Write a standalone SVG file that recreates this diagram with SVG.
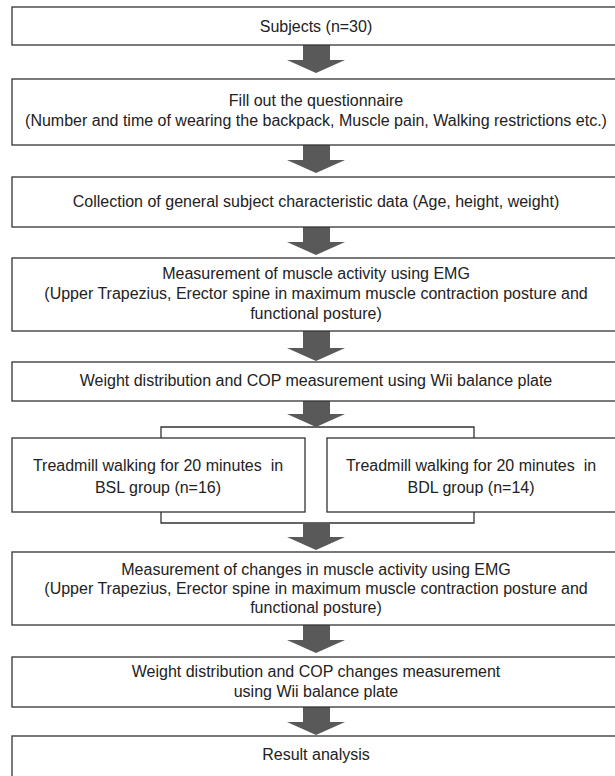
<svg xmlns="http://www.w3.org/2000/svg" width="615" height="776" viewBox="0 0 615 776">
<defs>
<style>
.box{fill:#ffffff;stroke:#333333;stroke-width:1.3}
.t{font-family:"Liberation Sans",Arial,sans-serif;font-size:16px;fill:#222222;text-anchor:middle;white-space:pre}
.arr{fill:#595959}
.br{fill:none;stroke:#333333;stroke-width:1.3}
</style>
</defs>
<rect width="615" height="776" fill="#ffffff"/>
<g id="connectors">
<path class="br" d="M161,438 V427 H474 V438"/>
<path class="br" d="M161,512 V523 H474 V512"/>
<polygon class="arr" points="303,45 330,45 330,60 345,60 316,73 287,60 303,60"/>
<polygon class="arr" points="303,145 330,145 330,160 345,160 316,173 287,160 303,160"/>
<polygon class="arr" points="303,227 330,227 330,242 345,242 316,255 287,242 303,242"/>
<polygon class="arr" points="303,331 330,331 330,348 345,348 316,361 287,348 303,348"/>
<polygon class="arr" points="303,401 330,401 330,414 345,414 316,427 287,414 303,414"/>
<polygon class="arr" points="303,523 330,523 330,537 345,537 316,550 287,537 303,537"/>
<polygon class="arr" points="303,625 330,625 330,640 345,640 316,653 287,640 303,640"/>
<polygon class="arr" points="303,707 330,707 330,722 345,722 316,735 287,722 303,722"/>
</g>
<g id="n1"><rect class="box" x="12" y="7" width="610" height="38"/><text class="t" x="316" y="32">Subjects (n=30)</text></g>
<g id="n2"><rect class="box" x="12" y="79" width="610" height="66"/><text class="t" x="316" y="106">Fill out the questionnaire</text><text class="t" x="316" y="126">(Number and time of wearing the backpack, Muscle pain, Walking restrictions etc.)</text></g>
<g id="n3"><rect class="box" x="12" y="177" width="610" height="50"/><text class="t" x="316" y="207">Collection of general subject characteristic data (Age, height, weight)</text></g>
<g id="n4"><rect class="box" x="12" y="258" width="610" height="73"/><text class="t" x="316" y="279">Measurement of muscle activity using EMG</text><text class="t" x="316" y="299">(Upper Trapezius, Erector spine in maximum muscle contraction posture and</text><text class="t" x="316" y="319">functional posture)</text></g>
<g id="n5"><rect class="box" x="12" y="362" width="610" height="39"/><text class="t" x="316" y="386">Weight distribution and COP measurement using Wii balance plate</text></g>
<g id="n6"><rect class="box" x="12" y="438" width="293" height="74"/><text class="t" x="158" y="471" xml:space="preserve">Treadmill walking for 20 minutes  in</text><text class="t" x="158" y="493">BSL group (n=16)</text></g>
<g id="n7"><rect class="box" x="327" y="438" width="295" height="74"/><text class="t" x="471" y="471" xml:space="preserve">Treadmill walking for 20 minutes  in</text><text class="t" x="471" y="493">BDL group (n=14)</text></g>
<g id="n8"><rect class="box" x="12" y="552" width="610" height="73"/><text class="t" x="316" y="575">Measurement of changes in muscle activity using EMG</text><text class="t" x="316" y="594">(Upper Trapezius, Erector spine in maximum muscle contraction posture and</text><text class="t" x="316" y="613">functional posture)</text></g>
<g id="n9"><rect class="box" x="12" y="657" width="610" height="50"/><text class="t" x="316" y="677">Weight distribution and COP changes measurement</text><text class="t" x="316" y="697">using Wii balance plate</text></g>
<g id="n10"><rect class="box" x="12" y="736" width="610" height="50"/><text class="t" x="316" y="760">Result analysis</text></g>
</svg>
